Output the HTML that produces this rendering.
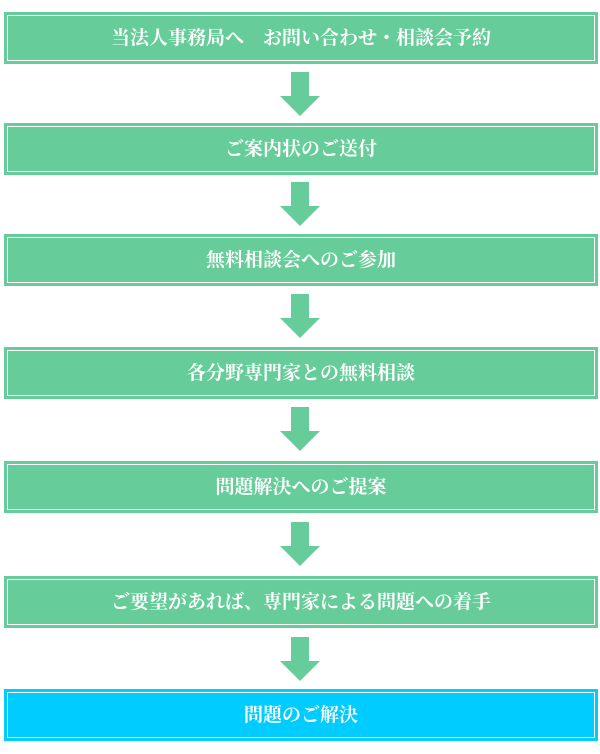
<!DOCTYPE html>
<html><head><meta charset="utf-8"><style>
body{margin:0;width:600px;height:754px;background:#fff;position:relative;overflow:hidden}
.b{position:absolute;left:4px;width:590px;height:48px;border:2px solid #66cc99;background:#66cc99;box-shadow:inset 0 0 0 1px #66cc99, inset 0 0 0 2px #fff;color:#fff;font:bold 19px "Liberation Serif","Noto Serif CJK SC",serif;text-align:center;line-height:50px}
.c{background:#00ccff;border-color:#00ccff;box-shadow:inset 0 0 0 1px #00ccff, inset 0 0 0 2px #fff}
.a{position:absolute;left:280px;width:40px;height:44px}
</style></head><body>
<div class="b" style="top:12px">当法人事務局へ　お問い合わせ・相談会予約</div>
<div class="b" style="top:123px">ご案内状のご送付</div>
<div class="b" style="top:234px">無料相談会へのご参加</div>
<div class="b" style="top:347px">各分野専門家との無料相談</div>
<div class="b" style="top:461px">問題解決へのご提案</div>
<div class="b" style="top:576px">ご要望があれば、専門家による問題への着手</div>
<div class="b c" style="top:689px">問題のご解決</div>
<svg class="a" style="top:72px" viewBox="0 0 40 44"><polygon points="11,0 29,0 29,24 40,24 20,44 0,24 11,24" fill="#66cc99"/></svg>
<svg class="a" style="top:182px" viewBox="0 0 40 44"><polygon points="11,0 29,0 29,24 40,24 20,44 0,24 11,24" fill="#66cc99"/></svg>
<svg class="a" style="top:294px" viewBox="0 0 40 44"><polygon points="11,0 29,0 29,24 40,24 20,44 0,24 11,24" fill="#66cc99"/></svg>
<svg class="a" style="top:407px" viewBox="0 0 40 44"><polygon points="11,0 29,0 29,24 40,24 20,44 0,24 11,24" fill="#66cc99"/></svg>
<svg class="a" style="top:522px" viewBox="0 0 40 44"><polygon points="11,0 29,0 29,24 40,24 20,44 0,24 11,24" fill="#66cc99"/></svg>
<svg class="a" style="top:637px" viewBox="0 0 40 44"><polygon points="11,0 29,0 29,24 40,24 20,44 0,24 11,24" fill="#66cc99"/></svg>
</body></html>
